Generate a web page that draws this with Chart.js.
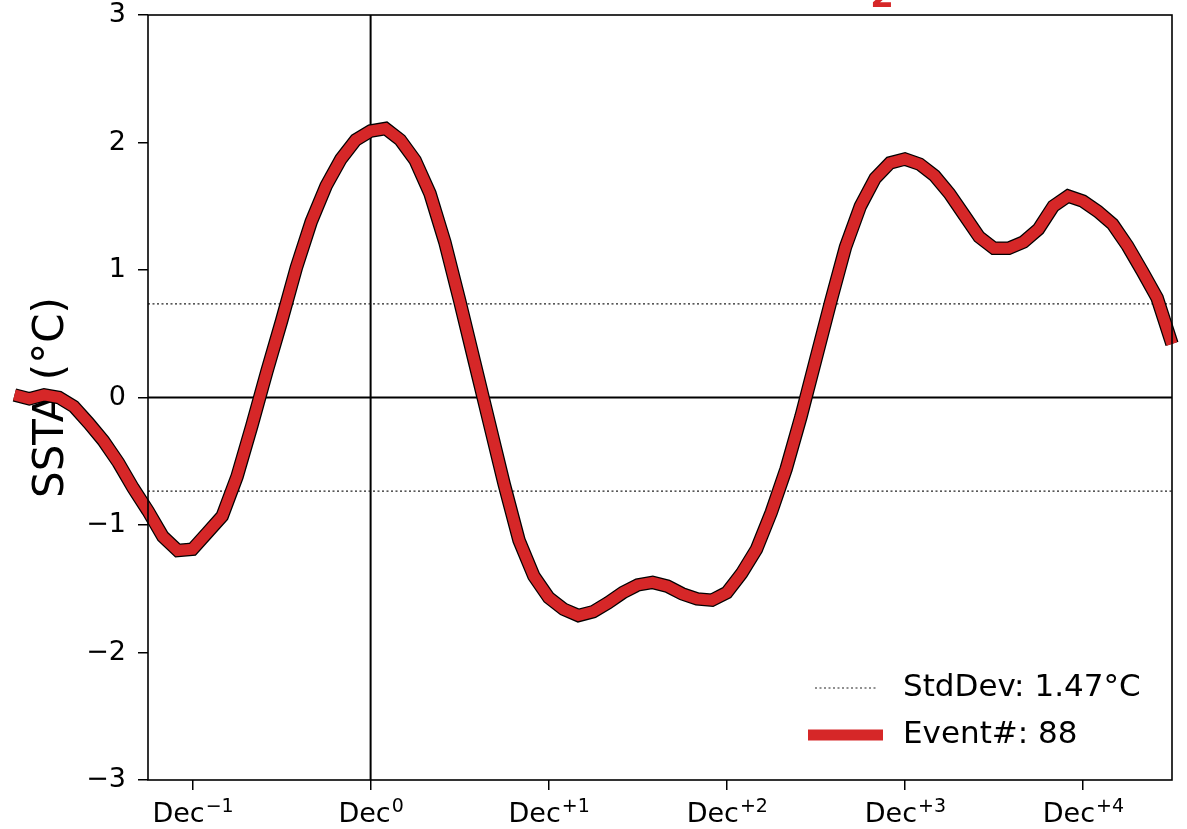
<!DOCTYPE html>
<html>
<head>
<meta charset="utf-8">
<script src="https://cdn.jsdelivr.net/npm/chart.js@4.4.0/dist/chart.umd.min.js"></script>
<style>
  html, body { margin: 0; padding: 0; background: #ffffff; }
  #wrap { width: 1187px; height: 829px; }
</style>
</head>
<body>
<div id="wrap"><canvas id="chart" width="1187" height="829"></canvas></div>
<script>
// Composite SST anomaly (°C), monthly, starting at Dec of year -2
const firstMonth = -24;
const sstaEvent = [
   0.02, -0.01,  0.02,  0.00, -0.07, -0.20, -0.34, -0.51, -0.71, -0.89,
  -1.09, -1.20, -1.19, -1.06, -0.93, -0.62, -0.22,  0.20,  0.60,  1.02,
   1.38,  1.66,  1.87,  2.02,  2.09,  2.11,  2.02,  1.86,  1.60,  1.22,
   0.76,  0.28, -0.20, -0.68, -1.12, -1.40, -1.57, -1.66, -1.71, -1.68,
  -1.61, -1.53, -1.47, -1.45, -1.48, -1.54, -1.58, -1.59, -1.53, -1.38,
  -1.19, -0.90, -0.56, -0.15,  0.30,  0.75,  1.18,  1.50,  1.72,  1.84,
   1.87,  1.83,  1.74,  1.60,  1.43,  1.26,  1.17,  1.17,  1.22,  1.32,
   1.50,  1.58,  1.54,  1.46,  1.36,  1.19,  0.99,  0.78,  0.42
];

// Axes
const xRange = [-15, 54];
const yRange = [-3, 3];
const yTickValues = [-3, -2, -1, 0, 1, 2, 3];
const decMonths = [-12, 0, 12, 24, 36, 48];
const decBase = 'Dec';
const decYears = ['\u22121', '0', '+1', '+2', '+3', '+4'];

// Summary statistics
const stdDev = 1.47;
const eventCount = 88;

const FONT = "'DejaVu Sans', 'Liberation Sans', sans-serif";
const RED = '#d62728';

const eventPoints = sstaEvent.map((v, i) => ({ x: firstMonth + i, y: v }));
const halfStd = stdDev / 2;

function hLine(y) { return [{ x: xRange[0], y: y }, { x: xRange[1], y: y }]; }

// Frame around the plot area, Dec tick labels with year superscripts, legend
const framePlugin = {
  id: 'frameAndLegend',
  afterDatasetsDraw(chart) {
    const { ctx, chartArea: a } = chart;
    ctx.save();
    ctx.strokeStyle = '#000';
    ctx.lineWidth = 1.6;
    ctx.setLineDash([]);
    ctx.strokeRect(a.left, a.top, a.right - a.left, a.bottom - a.top);
    ctx.restore();
  },
  afterDraw(chart) {
    const { ctx } = chart;
    const xs = chart.scales.x;
    ctx.save();

    // x tick labels: "Dec" with a raised year offset
    ctx.fillStyle = '#000';
    ctx.textBaseline = 'alphabetic';
    ctx.textAlign = 'left';
    const baseFont = '27px ' + FONT;
    const supFont = '19px ' + FONT;
    decMonths.forEach((m, i) => {
      ctx.font = baseFont;
      const wBase = ctx.measureText(decBase).width;
      ctx.font = supFont;
      const wSup = ctx.measureText(decYears[i]).width;
      const x0 = xs.getPixelForValue(m) - (wBase + wSup) / 2;
      ctx.font = baseFont;
      ctx.fillText(decBase, x0, 822);
      ctx.font = supFont;
      ctx.fillText(decYears[i], x0 + wBase + 1, 812);
    });

    // legend
    const entries = chart.data.datasets.filter(d => d.legendRow !== undefined)
      .sort((p, q) => p.legendRow - q.legendRow);
    const rows = [688, 735];
    entries.forEach((d) => {
      const y = rows[d.legendRow];
      ctx.beginPath();
      ctx.strokeStyle = d.borderColor;
      ctx.lineWidth = d.legendWidth;
      ctx.setLineDash(d.borderDash || []);
      ctx.lineCap = 'butt';
      ctx.moveTo(d.legendFrom, y);
      ctx.lineTo(d.legendTo, y);
      ctx.stroke();
      ctx.setLineDash([]);
      ctx.fillStyle = '#000';
      ctx.font = '31px ' + FONT;
      ctx.textAlign = 'left';
      ctx.textBaseline = 'middle';
      ctx.fillText(d.label, 903, y);
    });

    // title (sits mostly above the canvas)
    ctx.fillStyle = RED;
    ctx.font = 'bold 34px ' + FONT;
    ctx.textAlign = 'center';
    ctx.textBaseline = 'alphabetic';
    ctx.fillText('2', 882, 7);
    ctx.restore();
  }
};

new Chart(document.getElementById('chart'), {
  type: 'scatter',
  data: {
    datasets: [
      {
        label: 'Event#: ' + eventCount,
        data: eventPoints,
        showLine: true,
        borderColor: RED,
        borderWidth: 11,
        borderJoinStyle: 'miter',
        borderCapStyle: 'butt',
        pointRadius: 0,
        clip: false,
        order: 1,
        legendRow: 1, legendWidth: 11, legendFrom: 808, legendTo: 883
      },
      {
        label: 'outline',
        data: eventPoints,
        showLine: true,
        borderColor: '#000',
        borderWidth: 13.5,
        borderJoinStyle: 'miter',
        borderCapStyle: 'butt',
        pointRadius: 0,
        clip: false,
        order: 2
      },
      {
        label: 'StdDev: ' + stdDev.toFixed(2) + '\u00B0C',
        data: hLine(halfStd),
        showLine: true,
        borderColor: '#222',
        borderWidth: 1.2,
        borderDash: [2, 2.5],
        pointRadius: 0,
        order: 3,
        legendRow: 0, legendWidth: 1.2, legendFrom: 815, legendTo: 876
      },
      {
        label: 'StdDev low',
        data: hLine(-halfStd),
        showLine: true,
        borderColor: '#222',
        borderWidth: 1.2,
        borderDash: [2, 2.5],
        pointRadius: 0,
        order: 4
      },
      {
        label: 'zero',
        data: hLine(0),
        showLine: true,
        borderColor: '#000',
        borderWidth: 2,
        pointRadius: 0,
        order: 5
      },
      {
        label: 'Dec0',
        data: [{ x: 0, y: yRange[0] }, { x: 0, y: yRange[1] }],
        showLine: true,
        borderColor: '#000',
        borderWidth: 2,
        pointRadius: 0,
        order: 6
      }
    ]
  },
  options: {
    responsive: false,
    animation: false,
    devicePixelRatio: 1,
    layout: { padding: { left: 0, top: 15, right: 15, bottom: 0 } },
    plugins: { legend: { display: false }, tooltip: { enabled: false } },
    scales: {
      x: {
        type: 'linear',
        position: 'bottom',
        bounds: 'data',
        afterDataLimits(scale) { scale.min = xRange[0]; scale.max = xRange[1]; },
        afterBuildTicks(scale) { scale.ticks = decMonths.map(v => ({ value: v })); },
        afterFit(scale) { scale.height = 49; scale.paddingLeft = 0; scale.paddingRight = 0; },
        border: { display: false },
        grid: { drawOnChartArea: false, drawTicks: true, tickLength: 10, color: '#000', lineWidth: 1.5 },
        ticks: {
          autoSkip: false,
          maxRotation: 0,
          padding: 6,
          color: '#000',
          font: { family: FONT, size: 27 },
          callback() { return ''; }
        }
      },
      y: {
        type: 'linear',
        min: yRange[0],
        max: yRange[1],
        afterBuildTicks(scale) { scale.ticks = yTickValues.map(v => ({ value: v })); },
        afterFit(scale) { scale.width = 148; scale.paddingTop = 0; scale.paddingBottom = 0; },
        border: { display: false },
        grid: { drawOnChartArea: false, drawTicks: true, tickLength: 10, color: '#000', lineWidth: 1.5 },
        ticks: {
          padding: 12,
          color: '#000',
          font: { family: FONT, size: 27 },
          callback(v) { return v < 0 ? '\u2212' + Math.abs(v) : String(v); }
        },
        title: {
          display: true,
          text: 'SSTA (\u00B0C)',
          color: '#000',
          padding: { top: 27, bottom: 0 },
          font: { family: FONT, size: 42 }
        }
      }
    }
  },
  plugins: [framePlugin]
});
</script>
</body>
</html>
